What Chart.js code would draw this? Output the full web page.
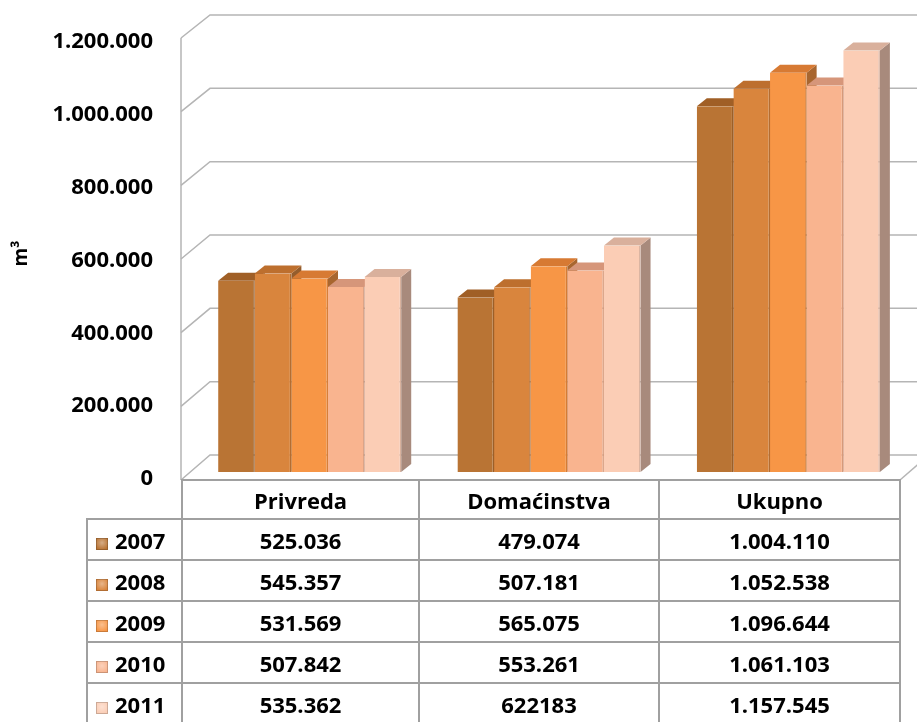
<!DOCTYPE html>
<html>
<head>
<meta charset="utf-8">
<script src="https://cdn.jsdelivr.net/npm/chart.js@4.4.1/dist/chart.umd.min.js"></script>
<style>
html, body { margin: 0; padding: 0; background: #fff; overflow: hidden; }
#wrap { position: relative; width: 917px; height: 722px; }
#chart { position: absolute; left: 0; top: 0; }
#tbl {
  position: absolute; left: 86px; top: 479px;
  border-collapse: collapse; table-layout: fixed;
  font: bold 22px "Open Sans"; color: #000;
}
#tbl td { border: 2px solid #a0a0a0; text-align: center; padding: 0; height: 39px; line-height: 22px; }
#tbl tr.head td { height: 37px; }
#tbl td.blank { border-top: none; border-left: none; }
#tbl td.yr { text-align: left; padding-left: 8px; white-space: nowrap; }
.sq {
  display: inline-block; width: 12px; height: 12px; margin-right: 7px; vertical-align: -1px;
  background: radial-gradient(circle at 50% 40%, rgba(255,255,255,0.4), rgba(255,255,255,0) 75%), var(--c);
  box-shadow: inset 0 0 0 1px rgba(0,0,0,0.18);
}
</style>
</head>
<body>
<div id="wrap">
  <canvas id="chart" width="917" height="722"></canvas>
  <table id="tbl">
    <colgroup><col style="width:95px"><col style="width:237px"><col style="width:240px"><col style="width:241px"></colgroup>
    <tbody></tbody>
  </table>
</div>
<script>
// categories and years as in the source table
const categories = ['Privreda', 'Domaćinstva', 'Ukupno']
const years = ['2007', '2008', '2009', '2010', '2011']

// values as printed in the table (m3)
const v2007 = ['525.036', '479.074', '1.004.110']
const v2008 = ['545.357', '507.181', '1.052.538']
const v2009 = ['531.569', '565.075', '1.096.644']
const v2010 = ['507.842', '553.261', '1.061.103']
const v2011 = ['535.362', '622183', '1.157.545']

const yTickLabels = ['0', '200.000', '400.000', '600.000', '800.000', '1.000.000', '1.200.000']

const fronts = ['#b97434', '#d9853d', '#f79646', '#f9b48f', '#fbcdb5']
const tops = ['#a05f26', '#bd6f2e', '#d77a33', '#d6967a', '#d9b09c']
const sides = ['#80522a', '#955d2c', '#a8662f', '#aa8270', '#a88a7c']
const edges = ['#9c5f28', '#b56d30', '#d67c34', '#d69a7a', '#d8b19d']

const series = [v2007, v2008, v2009, v2010, v2011]
const num = s => Number(s.replace(/\./g, ''))

const DX = 10, DY = 8
const gridColor = '#b5b5b5'

// back wall, side wall and floor lines
const walls = {
  id: 'walls',
  beforeDatasetsDraw(chart) {
    const { ctx, chartArea, scales: { y } } = chart
    const max = y.max
    const fx = chartArea.left - 9
    const bx = chartArea.left + 20
    const front = v => y.getPixelForValue(v) + 8 - 5 * v / max
    const back = v => y.getPixelForValue(v) - 17 - 3 * v / max
    ctx.save()
    ctx.strokeStyle = gridColor
    ctx.lineWidth = 1.5
    y.ticks.forEach(t => {
      ctx.beginPath()
      ctx.moveTo(fx, front(t.value))
      ctx.lineTo(bx, back(t.value))
      ctx.lineTo(chart.width, back(t.value))
      ctx.stroke()
    })
    ctx.beginPath()
    ctx.moveTo(fx, front(max))
    ctx.lineTo(fx, front(0))
    ctx.stroke()
    const rx = chartArea.right - 8
    ctx.beginPath()
    ctx.moveTo(rx, front(0))
    ctx.lineTo(rx + 29, back(0))
    ctx.stroke()
    ctx.restore()
  }
}

// top and side faces of every bar, drawn left to right before the fronts
const bars3d = {
  id: 'bars3d',
  beforeDatasetsDraw(chart) {
    const ctx = chart.ctx
    ctx.save()
    chart.data.datasets.forEach((ds, i) => {
      chart.getDatasetMeta(i).data.forEach(bar => {
        const { x, y, base, width } = bar.getProps(['x', 'y', 'base', 'width'], true)
        const x0 = x - width / 2, x1 = x + width / 2
        ctx.fillStyle = sides[i]
        ctx.beginPath()
        ctx.moveTo(x1, y); ctx.lineTo(x1 + DX, y - DY); ctx.lineTo(x1 + DX, base - DY); ctx.lineTo(x1, base)
        ctx.closePath(); ctx.fill()
        ctx.fillStyle = tops[i]
        ctx.beginPath()
        ctx.moveTo(x0, y); ctx.lineTo(x0 + DX, y - DY); ctx.lineTo(x1 + DX, y - DY); ctx.lineTo(x1, y)
        ctx.closePath(); ctx.fill()
      })
    })
    ctx.restore()
  }
}

new Chart(document.getElementById('chart'), {
  type: 'bar',
  data: {
    labels: categories,
    datasets: years.map((yr, i) => ({
      label: yr,
      data: series[i].map(num),
      backgroundColor: fronts[i],
      borderColor: edges[i],
      borderWidth: { top: 0, right: 1.5, bottom: 0, left: 0 },
      borderSkipped: false,
      categoryPercentage: 0.765,
      barPercentage: 1
    }))
  },
  options: {
    responsive: false,
    animation: false,
    layout: { padding: { top: 35, bottom: 250, left: 0, right: 9 } },
    plugins: { legend: { display: false }, tooltip: { enabled: false } },
    scales: {
      x: { display: false },
      y: {
        min: 0, max: 1200000,
        afterFit(scale) {
          scale.width = 190
          scale.paddingTop = 0
          scale.paddingBottom = 0
        },
        grid: { display: false, drawTicks: false },
        border: { display: false },
        ticks: {
          stepSize: 200000, padding: 37, labelOffset: 7, color: '#000',
          font: { family: 'Open Sans', size: 22, weight: 'bold' },
          callback: (v, i) => yTickLabels[i]
        },
        title: {
          display: true, text: 'm³', color: '#000',
          font: { family: 'Open Sans', size: 19, weight: 'bold' },
          padding: { top: 10 }
        }
      }
    }
  },
  plugins: [walls, bars3d]
})

// data table under the plot
let rows = '<tr class="head"><td class="blank"></td>' + categories.map(c => `<td>${c}</td>`).join('') + '</tr>'
years.forEach((yr, i) => {
  rows += `<tr><td class="yr"><span class="sq" style="--c:${fronts[i]}"></span>${yr}</td>` +
    series[i].map(v => `<td>${v}</td>`).join('') + '</tr>'
})
document.querySelector('#tbl tbody').innerHTML = rows
</script>
</body>
</html>
